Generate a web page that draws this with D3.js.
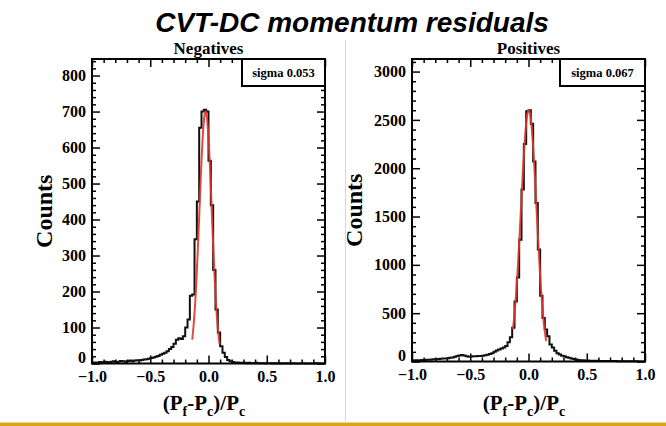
<!DOCTYPE html>
<html>
<head>
<meta charset="utf-8">
<script src="https://cdn.jsdelivr.net/npm/d3@7/dist/d3.min.js"></script>
<style>
  html, body { margin: 0; padding: 0; background: #fff; }
  svg { display: block; }
</style>
</head>
<body>
<svg id="chart" width="666" height="426"></svg>
<script>
// Histogram binning: 100 bins of width 0.02 over [-1, 1]
const binRange = [-1, 1];
const binCount = 100;

// Counts per bin, negative tracks
const negCounts = [
  2, 3, 2, 4, 3, 5, 4, 3, 5, 6, 4, 5, 7, 6, 5, 7, 8, 6, 8, 9, 8, 10, 11, 12, 13,
  15, 17, 19, 21, 24,
  27, 30, 34, 40, 46,
  55, 66, 70, 68, 76,
  100, 122, 188, 192, 345,
  450, 655, 700, 705, 700,
  563, 440, 260, 150, 86,
  48, 30, 18, 10, 6,
  4, 3, 3, 2, 2,
  2, 1, 2, 1, 1, 2, 1, 1, 1, 0, 1, 1, 0, 1, 0, 1, 0, 0, 1, 0,
  0, 1, 0, 0, 0, 1, 0, 0, 0, 0, 0, 1, 0, 0, 0
];

// Counts per bin, positive tracks
const posCounts = [
  10, 12, 14, 13, 16, 15, 18, 17, 20, 22,
  24, 26, 28, 30, 32, 34, 38, 42, 48, 56,
  62, 68, 62, 55, 50,
  52, 55, 54, 58, 56,
  60, 64, 70, 78, 85,
  100, 115, 125, 135, 145,
  160, 200, 250, 350, 620,
  870, 1260, 1780, 2250, 2590,
  2600, 2460, 2070, 1640, 1160,
  680, 450, 330, 260, 175,
  145, 110, 85, 72, 60,
  55, 45, 38, 31, 25,
  20, 16, 13, 12, 11,
  10, 9, 8, 8, 7,
  6, 6, 5, 5, 5, 4, 4, 4, 3, 3, 3, 3, 2, 2, 2, 2, 2, 1, 1, 1
];

// Gaussian fit results: [amplitude, mean, sigma], and fitted x-range
const negFit = [700, -0.025, 0.053];
const negFitRange = [-0.14, 0.095];
const posFit = [2600, 0.002, 0.067];
const posFitRange = [-0.134, 0.152];

// Axis ticks
const xMajorTicks = [-1.0, -0.5, 0.0, 0.5, 1.0];
const xMinorTicks = [-0.9, -0.8, -0.7, -0.6, -0.4, -0.3, -0.2, -0.1, 0.1, 0.2, 0.3, 0.4, 0.6, 0.7, 0.8, 0.9];
const negYMajorTicks = [0, 100, 200, 300, 400, 500, 600, 700, 800];
const posYMajorTicks = [0, 500, 1000, 1500, 2000, 2500, 3000];

const titleText = "CVT-DC momentum residuals";
const panelTitles = ["Negatives", "Positives"];
const sigmaLabels = ["sigma  0.053", "sigma  0.067"];

const svg = d3.select("#chart");
const SERIF = "'Liberation Serif', 'Times New Roman', serif";

svg.append("rect").attr("width", 666).attr("height", 426).attr("fill", "#fff");

// Slide title
svg.append("text")
  .attr("x", 352).attr("y", 32)
  .attr("text-anchor", "middle")
  .style("font-family", "'Liberation Sans', Arial, sans-serif")
  .style("font-weight", "bold").style("font-style", "italic")
  .style("font-size", "28px")
  .text(titleText);

// Divider between the two canvases
svg.append("line")
  .attr("x1", 345.5).attr("x2", 345.5).attr("y1", 40).attr("y2", 421)
  .attr("stroke", "#d8d8d8").attr("stroke-width", 1);

// Gold rule at the bottom of the slide
svg.append("rect")
  .attr("x", 0).attr("y", 422.5).attr("width", 666).attr("height", 3.5)
  .attr("fill", "#dba21c");

function drawPanel(opt) {
  const { left, right, top, bottom, yMax, counts, fit, fitRange,
          yMajor, yMinorStep, title, sigmaText, sigmaBox, yLabelX, xLabelX } = opt;

  const x = d3.scaleLinear().domain(binRange).range([left, right]);
  const y = d3.scaleLinear().domain([0, yMax]).range([bottom, top]);
  const g = svg.append("g");

  const yMinor = d3.range(0, yMax, yMinorStep).filter(v => !yMajor.includes(v));

  function styleAxis(sel) {
    sel.select(".domain").remove();
    sel.selectAll(".tick line").attr("stroke", "#000").attr("stroke-width", 1.5);
    sel.selectAll("text")
      .style("font-family", SERIF).style("font-weight", "bold")
      .style("font-size", "16px").attr("fill", "#000");
  }

  // Bottom axis with labels
  g.append("g").attr("transform", `translate(0,${bottom})`)
    .call(d3.axisBottom(x).tickValues(xMajorTicks).tickSizeInner(-8).tickSizeOuter(0)
      .tickPadding(7).tickFormat(d3.format(".1f")))
    .call(styleAxis);
  g.append("g").attr("transform", `translate(0,${bottom})`)
    .call(d3.axisBottom(x).tickValues(xMinorTicks).tickSizeInner(-4).tickSizeOuter(0).tickFormat(""))
    .call(styleAxis);
  // Top mirror ticks
  g.append("g").attr("transform", `translate(0,${top})`)
    .call(d3.axisTop(x).tickValues(xMajorTicks).tickSizeInner(-8).tickSizeOuter(0).tickFormat(""))
    .call(styleAxis);
  g.append("g").attr("transform", `translate(0,${top})`)
    .call(d3.axisTop(x).tickValues(xMinorTicks).tickSizeInner(-4).tickSizeOuter(0).tickFormat(""))
    .call(styleAxis);

  // Left axis with labels
  const yAxisG = g.append("g").attr("transform", `translate(${left},0)`)
    .call(d3.axisLeft(y).tickValues(yMajor).tickSizeInner(-8).tickSizeOuter(0)
      .tickPadding(6).tickFormat(d3.format("d")))
    .call(styleAxis);
  // the zero label sits just above the corner
  yAxisG.selectAll(".tick text").filter(d => d === 0).attr("dy", "-0.08em");
  g.append("g").attr("transform", `translate(${left},0)`)
    .call(d3.axisLeft(y).tickValues(yMinor).tickSizeInner(-4).tickSizeOuter(0).tickFormat(""))
    .call(styleAxis);
  // Right mirror ticks
  g.append("g").attr("transform", `translate(${right},0)`)
    .call(d3.axisRight(y).tickValues(yMajor).tickSizeInner(-8).tickSizeOuter(0).tickFormat(""))
    .call(styleAxis);
  g.append("g").attr("transform", `translate(${right},0)`)
    .call(d3.axisRight(y).tickValues(yMinor).tickSizeInner(-4).tickSizeOuter(0).tickFormat(""))
    .call(styleAxis);

  // Histogram as a step outline
  const width = (binRange[1] - binRange[0]) / binCount;
  const pts = counts.map((c, i) => [binRange[0] + i * width, c]);
  pts.push([binRange[1], counts[counts.length - 1]]);
  g.append("path")
    .datum(pts)
    .attr("fill", "none").attr("stroke", "#111").attr("stroke-width", 2)
    .attr("d", d3.line().x(d => x(d[0])).y(d => y(d[1])).curve(d3.curveStepAfter));

  // Gaussian fit curve
  const [amp, mu, sig] = fit;
  const xs = d3.range(fitRange[0], fitRange[1] + 1e-9, (fitRange[1] - fitRange[0]) / 120);
  g.append("path")
    .datum(xs)
    .attr("fill", "none").attr("stroke", "#e0352b").attr("stroke-width", 2).attr("stroke-opacity", 0.9)
    .attr("d", d3.line()
      .x(d => x(d))
      .y(d => y(amp * Math.exp(-0.5 * ((d - mu) / sig) ** 2))));

  // Frame
  g.append("rect")
    .attr("x", left).attr("y", top).attr("width", right - left).attr("height", bottom - top)
    .attr("fill", "none").attr("stroke", "#000").attr("stroke-width", 2);

  // Stats box
  g.append("rect")
    .attr("x", sigmaBox).attr("y", top).attr("width", right - sigmaBox).attr("height", 27)
    .attr("fill", "#fff").attr("stroke", "#000").attr("stroke-width", 2);
  g.append("text")
    .attr("x", (sigmaBox + right) / 2).attr("y", top + 18)
    .attr("text-anchor", "middle")
    .style("font-family", SERIF).style("font-weight", "bold").style("font-size", "12.5px")
    .text(sigmaText);

  // Panel title
  g.append("text")
    .attr("x", (left + right) / 2).attr("y", top - 5.5)
    .attr("text-anchor", "middle")
    .style("font-family", SERIF).style("font-weight", "bold").style("font-size", "17px")
    .text(title);

  // Y label
  g.append("text")
    .attr("transform", `translate(${yLabelX},${(top + bottom) / 2}) rotate(-90)`)
    .attr("text-anchor", "middle")
    .style("font-family", SERIF).style("font-weight", "bold").style("font-size", "24px")
    .text("Counts");

  // X label: (P_f-P_c)/P_c
  const xl = g.append("text")
    .attr("x", xLabelX).attr("y", 410)
    .attr("text-anchor", "middle")
    .style("font-family", SERIF).style("font-weight", "bold").style("font-size", "21px");
  const parts = [["(P", 0], ["f", 1], ["-P", 0], ["c", 1], [")/P", 0], ["c", 1]];
  let shifted = false;
  parts.forEach(([t, sub]) => {
    const ts = xl.append("tspan").text(t);
    if (sub && !shifted) { ts.attr("dy", 6).style("font-size", "14px"); shifted = true; }
    else if (sub) { ts.style("font-size", "14px"); }
    else if (shifted) { ts.attr("dy", -6); shifted = false; }
  });
}

drawPanel({
  left: 92, right: 325, top: 59, bottom: 363.5, yMax: 846,
  counts: negCounts, fit: negFit, fitRange: negFitRange,
  yMajor: negYMajorTicks, yMinorStep: 20,
  title: panelTitles[0], sigmaText: sigmaLabels[0], sigmaBox: 242,
  yLabelX: 52, xLabelX: 204
});

drawPanel({
  left: 412, right: 645, top: 59, bottom: 361.5, yMax: 3130,
  counts: posCounts, fit: posFit, fitRange: posFitRange,
  yMajor: posYMajorTicks, yMinorStep: 100,
  title: panelTitles[1], sigmaText: sigmaLabels[1], sigmaBox: 560,
  yLabelX: 362, xLabelX: 524
});
</script>
</body>
</html>
